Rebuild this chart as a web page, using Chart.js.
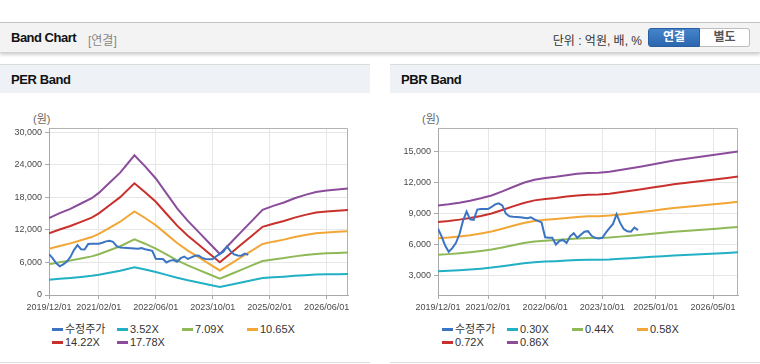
<!DOCTYPE html>
<html lang="ko">
<head>
<meta charset="utf-8">
<script src="https://cdn.jsdelivr.net/npm/chart.js@4.4.1/dist/chart.umd.min.js"></script>
<style>
  body { margin: 0; width: 760px; height: 364px; background: #fff; position: relative; overflow: hidden;
         font-family: "Liberation Sans", Arial, "Noto Sans CJK KR", sans-serif; color: #333; }
  .top { position: absolute; left: 0; top: 22px; width: 760px; height: 29px; background: #f3f3f3;
         border-top: 1px solid #c4c4c4; border-bottom: 1px solid #d2d2d2; box-shadow: 0 2px 3px rgba(0,0,0,.18); }
  .top .ttl { position: absolute; left: 11px; top: 7px; font-size: 13px; font-weight: bold; letter-spacing: -0.5px; color: #111; }
  .top .sub { position: absolute; left: 88px; top: 8px; font-size: 12px; color: #888; }
  .top .unit { position: absolute; right: 118px; top: 8px; font-size: 12px; color: #333; }
  .btn { position: absolute; top: 5px; height: 17px; line-height: 17px; font-size: 12px; font-weight: bold; text-align: center; }
  .btn.on { left: 648px; width: 50px; color: #fff; background: linear-gradient(#4584cb, #2b67ae);
            border: 1px solid #2a5e9e; border-radius: 3px 0 0 3px; }
  .btn.off { left: 700px; width: 49px; color: #555; background: #fff; border: 1px solid #bdbdbd; border-left: none; border-radius: 0 3px 3px 0; }
  .panel { position: absolute; top: 64px; width: 370px; height: 297px; border-top: 1px solid #dcdcdc; border-bottom: 1px solid #dcdcdc; }
  .panel .head { height: 28px; background: #eef2f7; }
  .panel .head span { position: absolute; left: 11px; top: 7px; font-size: 13px; font-weight: bold; letter-spacing: -0.4px; color: #111; }
  .unitlbl { position: absolute; top: 110px; font-size: 11px; color: #666; }
  canvas { position: absolute; top: 93px; }
  .legend { position: absolute; top: 323px; width: 280px; font-size: 11px; color: #333; line-height: 13.3px; }
  .legend .item { display: inline-block; width: 65px; white-space: nowrap; }
  .legend .sw { display: inline-block; width: 11px; height: 3px; vertical-align: middle; margin-right: 2px; position: relative; top: -1px; }
</style>
</head>
<body>
<div class="top">
  <span class="ttl">Band Chart</span><span class="sub">[연결]</span>
  <span class="unit">단위 : 억원, 배, %</span>
  <span class="btn on">연결</span><span class="btn off">별도</span>
</div>

<div class="panel" style="left:0"><div class="head"><span>PER Band</span></div></div>
<div class="panel" style="left:390px"><div class="head"><span>PBR Band</span></div></div>
<div class="unitlbl" style="left:33px">(원)</div>
<div class="unitlbl" style="left:422px">(원)</div>

<canvas id="perChart" width="370" height="225" style="left:0"></canvas>
<canvas id="pbrChart" width="370" height="225" style="left:390px"></canvas>
<div class="legend" id="perLegend" style="left:52px"></div>
<div class="legend" id="pbrLegend" style="left:442px"></div>

<script>
// months counted from 2019/12/01
const priceLabel = "수정주가";
const priceMonthly = [
  7550, 6800, 5900, 5300, 5650, 6150, 7000, 8300, 9200, 8450,
  8400, 9400, 9450, 9450, 9450, 9650, 9900, 10000, 9800, 9000,
  8750, 8700, 8680, 8650, 8600, 8550, 8650, 8450, 8300, 8150,
  6700, 6650, 6650, 6000, 6350, 6450, 6150, 6800, 7100, 6650,
  6950, 7250, 7300, 6850, 6650, 6600, 6650, 7150, 7600, 8000,
  8950, 8100, 7500, 7300, 7250, 7650, 7400
];

const perMonths = [0, 3, 6, 9, 12, 14, 17, 20, 24, 27, 30, 33, 36, 39, 42, 45, 48, 51, 54, 57, 60, 63, 66, 69, 72, 75, 78, 81, 84];
const perLabels = ["3.52X", "7.09X", "10.65X", "14.22X", "17.78X"];
const per352 = [2820, 2990, 3150, 3340, 3540, 3730, 4100, 4470, 5100, 4700, 4260, 3710, 3170, 2710, 2310, 1900, 1500, 1900, 2310, 2710, 3120, 3260, 3380, 3540, 3660, 3770, 3820, 3850, 3890];
const per709 = [5670, 6030, 6350, 6740, 7130, 7520, 8260, 9000, 10280, 9470, 8580, 7480, 6380, 5460, 4640, 3830, 3010, 3830, 4640, 5460, 6280, 6560, 6810, 7130, 7370, 7590, 7690, 7760, 7830];
const per1065 = [8520, 9050, 9530, 10120, 10700, 11290, 12410, 13530, 15440, 14220, 12890, 11240, 9590, 8200, 6980, 5750, 4530, 5750, 6980, 8200, 9430, 9850, 10220, 10700, 11080, 11400, 11560, 11660, 11770];
const per1422 = [11380, 12090, 12730, 13510, 14290, 15070, 16570, 18060, 20620, 18980, 17210, 15000, 12800, 10950, 9310, 7680, 6040, 7680, 9310, 10950, 12590, 13150, 13650, 14290, 14790, 15220, 15430, 15570, 15710];
const per1778 = [14220, 15110, 15910, 16890, 17870, 18850, 20710, 22580, 25780, 23740, 21510, 18760, 16000, 13690, 11650, 9600, 7560, 9600, 11650, 13690, 15740, 16450, 17070, 17870, 18490, 19030, 19290, 19470, 19650];
const perXTicks = [0, 14, 30, 46, 62, 78];
const perXTickLabels = ["2019/12/01", "2021/02/01", "2022/06/01", "2023/10/01", "2025/02/01", "2026/06/01"];
const perYTicks = [0, 6000, 12000, 18000, 24000, 30000];

const pbrMonths = [0, 3, 6, 9, 12, 15, 18, 21, 24, 27, 30, 33, 36, 39, 42, 45, 48, 51, 54, 57, 60, 63, 66, 69, 72, 75, 78, 81, 84];
const pbrLabels = ["0.30X", "0.44X", "0.58X", "0.72X", "0.86X"];
const pbr030 = [3410, 3460, 3510, 3580, 3660, 3760, 3890, 4040, 4190, 4290, 4350, 4390, 4440, 4490, 4520, 4530, 4560, 4620, 4680, 4740, 4810, 4870, 4940, 4990, 5040, 5090, 5140, 5190, 5250];
const pbr044 = [5010, 5070, 5150, 5250, 5370, 5510, 5710, 5930, 6140, 6290, 6380, 6440, 6510, 6580, 6630, 6640, 6690, 6770, 6860, 6950, 7050, 7150, 7240, 7320, 7390, 7470, 7540, 7620, 7700];
const pbr058 = [6600, 6680, 6790, 6910, 7080, 7260, 7530, 7820, 8090, 8290, 8400, 8490, 8580, 8680, 8740, 8750, 8820, 8930, 9050, 9160, 9290, 9420, 9550, 9650, 9740, 9850, 9940, 10040, 10150];
const pbr072 = [8190, 8290, 8420, 8580, 8780, 9010, 9350, 9710, 10040, 10290, 10430, 10530, 10660, 10770, 10840, 10870, 10940, 11080, 11230, 11380, 11530, 11690, 11850, 11970, 12100, 12230, 12340, 12460, 12600];
const pbr086 = [9790, 9910, 10060, 10250, 10490, 10770, 11160, 11590, 12000, 12290, 12460, 12580, 12730, 12870, 12950, 12980, 13070, 13240, 13420, 13590, 13780, 13970, 14160, 14300, 14450, 14600, 14740, 14890, 15050];
const pbrXTicks = [0, 14, 30, 46, 61, 77];
const pbrXTickLabels = ["2019/12/01", "2021/02/01", "2022/06/01", "2023/10/01", "2025/01/01", "2026/05/01"];
const pbrYTicks = [3000, 6000, 9000, 12000, 15000];

const priceColor = "#3b74c2";
const bandColors = ["#21b0c4", "#8fb857", "#f2a635", "#c9302c", "#8b4c9b"];

Chart.defaults.font.family = '"Liberation Sans", Arial, sans-serif';
Chart.defaults.font.size = 9;
Chart.defaults.color = "#4a4a4a";

const framePlugin = {
  id: "frame",
  beforeDatasetsDraw(chart) {
    const { ctx, chartArea: a } = chart;
    ctx.save();
    ctx.strokeStyle = "#b2b2b2";
    ctx.lineWidth = 1;
    ctx.beginPath();
    ctx.moveTo(Math.round(a.left), Math.round(a.top) + 0.5);
    ctx.lineTo(Math.round(a.right) - 0.5, Math.round(a.top) + 0.5);
    ctx.lineTo(Math.round(a.right) - 0.5, Math.round(a.bottom));
    ctx.stroke();
    ctx.restore();
  },
};

function toPoints(xs, ys) {
  return ys.map((y, i) => ({ x: xs[i], y }));
}

function makeChart(id, bands, labels, months, xTicks, xTickLabels, yTicks, yMin, yMax, yWidth) {
  const datasets = [
    {
      label: priceLabel,
      data: priceMonthly.map((y, i) => ({ x: i, y })),
      borderColor: priceColor,
      borderWidth: 2,
    },
  ];
  bands.forEach((vals, i) => {
    datasets.push({
      label: labels[i],
      data: toPoints(months, vals),
      borderColor: bandColors[i],
      borderWidth: 2,
    });
  });

  return new Chart(document.getElementById(id), {
    type: "line",
    data: { datasets },
    options: {
      responsive: false,
      animation: false,
      parsing: true,
      layout: { padding: { top: 35, right: 22, left: 0, bottom: 0 } },
      elements: { point: { radius: 0 }, line: { tension: 0 } },
      plugins: { legend: { display: false }, tooltip: { enabled: false } },
      scales: {
        x: {
          type: "linear",
          min: 0,
          max: 84,
          afterBuildTicks: (s) => { s.ticks = xTicks.map((v) => ({ value: v })); },
          afterFit: (s) => { s.height = 23; },
          grid: { color: "#e6e6e6", tickColor: "#a8a8a8", tickLength: 4 },
          border: { color: "#a8a8a8" },
          ticks: {
            autoSkip: false,
            maxRotation: 0,
            padding: 3,
            callback: (v) => xTickLabels[xTicks.indexOf(v)],
          },
        },
        y: {
          min: yMin,
          max: yMax,
          afterBuildTicks: (s) => { s.ticks = yTicks.map((v) => ({ value: v })); },
          afterFit: (s) => { s.width = yWidth; },
          grid: { color: "#e6e6e6", tickColor: "#a8a8a8", tickLength: 4 },
          border: { color: "#a8a8a8" },
          ticks: { padding: 3, callback: (v) => v.toLocaleString("en-US") },
        },
      },
    },
    plugins: [framePlugin],
  });
}

function makeLegend(id, labels) {
  const el = document.getElementById(id);
  const items = [[priceLabel, priceColor]].concat(labels.map((l, i) => [l, bandColors[i]]));
  el.innerHTML = items
    .map(([l, c]) => `<span class="item"><span class="sw" style="background:${c}"></span>${l}</span>`)
    .join("");
}

makeChart("perChart", [per352, per709, per1065, per1422, per1778], perLabels, perMonths,
  perXTicks, perXTickLabels, perYTicks, 0, 30830, 49);
makeChart("pbrChart", [pbr030, pbr044, pbr058, pbr072, pbr086], pbrLabels, pbrMonths,
  pbrXTicks, pbrXTickLabels, pbrYTicks, 1100, 17320, 48);
makeLegend("perLegend", perLabels);
makeLegend("pbrLegend", pbrLabels);
</script>
</body>
</html>
